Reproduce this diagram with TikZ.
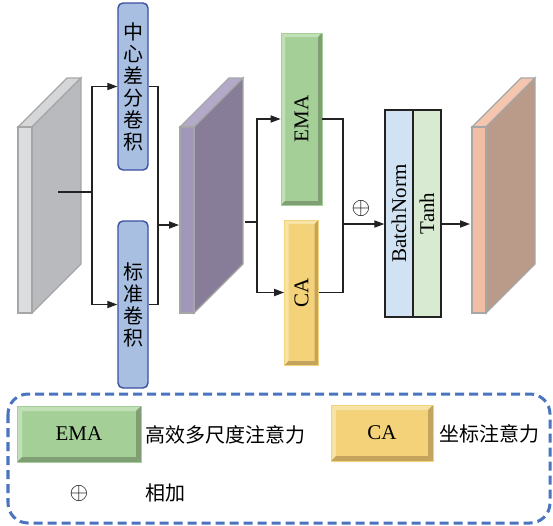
\documentclass[tikz,border=0pt]{standalone}
\usepackage{fontspec}
\setmainfont{Liberation Serif}
\newfontfamily\cjk{Noto Sans CJK SC}
\usetikzlibrary{arrows.meta}

\definecolor{convfill}{HTML}{A8BFE1}
\definecolor{convline}{HTML}{3B4FA0}
\definecolor{emafill}{HTML}{A4D097}
\definecolor{emalight}{HTML}{C2E0B7}
\definecolor{emadark}{HTML}{7F9E74}
\definecolor{cafill}{HTML}{F3D279}
\definecolor{calight}{HTML}{F8E3A6}
\definecolor{cadark}{HTML}{C4A45C}
\definecolor{bnfill}{HTML}{D1E3F2}
\definecolor{tanhfill}{HTML}{D9EAD3}
\definecolor{legendline}{HTML}{4A74BE}
\definecolor{slabline}{HTML}{A6A6A6}
\definecolor{wire}{HTML}{222222}
\definecolor{infront}{HTML}{DCDDDF}
\definecolor{inside}{HTML}{B9BABD}
\definecolor{intop}{HTML}{D5D6D8}
\definecolor{midfront}{HTML}{A097BA}
\definecolor{midside}{HTML}{877D99}
\definecolor{midtop}{HTML}{B3A9C9}
\definecolor{outfront}{HTML}{F2BEA3}
\definecolor{outside}{HTML}{BA9A89}
\definecolor{outtop}{HTML}{F4C6AE}

\tikzset{
    conv/.style={draw=convline, fill=convfill, rounded corners=2.5pt, line width=0.7pt,
        minimum width=15pt, minimum height=83.5pt, inner sep=0pt, align=center,
        font=\cjk\fontsize{10}{11}\selectfont},
    bevel/.style n args={4}{fill=#1, draw=#1, line width=0.4pt, inner sep=0pt,
        font=\fontsize{10.5}{12}\selectfont,
        path picture={
            \fill[#2] (path picture bounding box.north west) -- (path picture bounding box.north east)
                -- ([shift={(-#4,-#4)}]path picture bounding box.north east)
                -- ([shift={(#4,-#4)}]path picture bounding box.north west) -- cycle;
            \fill[#2] (path picture bounding box.north west) -- ([shift={(#4,-#4)}]path picture bounding box.north west)
                -- ([shift={(#4,#4)}]path picture bounding box.south west)
                -- (path picture bounding box.south west) -- cycle;
            \fill[#3] (path picture bounding box.south west) -- (path picture bounding box.south east)
                -- ([shift={(-#4,#4)}]path picture bounding box.south east)
                -- ([shift={(#4,#4)}]path picture bounding box.south west) -- cycle;
            \fill[#3] (path picture bounding box.north east) -- (path picture bounding box.south east)
                -- ([shift={(-#4,#4)}]path picture bounding box.south east)
                -- ([shift={(-#4,-#4)}]path picture bounding box.north east) -- cycle;
        }},
    ema/.style={bevel={emafill}{emalight}{emadark}{#1}},
    ca/.style={bevel={cafill}{calight}{cadark}{#1}},
    layer/.style={draw=wire, line width=0.7pt, minimum width=14pt, minimum height=103.5pt, inner sep=0pt,
        font=\fontsize{10.5}{12}\selectfont},
    wire/.style={draw=wire, line width=0.6pt},
    plus/.style={inner sep=0pt, font=\fontsize{13}{14}\selectfont},
}

% feature map: x of front face, front / side / top colours
\newcommand{\featmap}[4]{%
    \filldraw[fill=#4, draw=slabline, line width=0.7pt] (#1,127) -- ++(49,-49) -- ++(14,0) -- ++(-49,49) -- cycle;
    \filldraw[fill=#3, draw=slabline, line width=0.7pt] (#1+14,127) -- ++(49,-49) -- ++(0,186) -- ++(-49,49) -- cycle;
    \filldraw[fill=#2, draw=slabline, line width=0.7pt] (#1,127) rectangle (#1+14,313);
}

\begin{document}
\begin{tikzpicture}[x=0.5pt, y=-0.5pt, >={Triangle[length=5pt,width=3.6pt]}]
    \useasboundingbox (0,0) rectangle (553,526);

    % Input feature map
    \featmap{18}{infront}{inside}{intop}
    \coordinate (in) at (58,192);

    % Two convolution branches
    \node[conv] (cdc) at (133,86.5) {中\\心\\差\\分\\卷\\积};
    \node[conv] (std) at (133,304.5) {标\\准\\卷\\积};

    \coordinate (s1) at (92,192);
    \draw[wire] (in) -- (s1);
    \draw[wire, ->] (s1) |- (cdc.west);
    \draw[wire, ->] (s1) |- (std.west);

    % Middle feature map
    \featmap{180}{midfront}{midside}{midtop}
    \coordinate (mid-in) at (179,225);
    \coordinate (mid-out) at (245,222);

    \coordinate (m1) at (158,225);
    \draw[wire] (cdc.east) -| (m1);
    \draw[wire] (std.east) -| (m1);
    \draw[wire, ->] (m1) -- (mid-in);

    % Attention branches
    \node[ema=2pt, minimum width=20.5pt, minimum height=86pt] (emab) at (301.5,119) {\rotatebox{90}{EMA}};
    \node[ca=2pt, minimum width=17pt, minimum height=72.5pt] (cab) at (301.5,292.5) {\rotatebox{90}{CA}};

    \coordinate (s2) at (257,222);
    \draw[wire] (mid-out) -- (s2);
    \draw[wire, ->] (s2) |- (emab.west);
    \draw[wire, ->] (s2) |- (cab.west);

    % Add, BatchNorm, Tanh
    \node[layer, fill=bnfill] (bn) at (399,213.5) {\rotatebox{90}{BatchNorm}};
    \node[layer, fill=tanhfill] (tanh) at (427,213.5) {\rotatebox{90}{Tanh}};

    \coordinate (m2) at (343,224);
    \draw[wire] (emab.east) -| (m2);
    \draw[wire] (cab.east) -| (m2);
    \draw[wire, ->] (m2) -- (m2 -| bn.west);
    \node[plus] (add) at (361,208) {$\oplus$};

    % Output feature map
    \featmap{472}{outfront}{outside}{outtop}
    \coordinate (out-in) at (470,224);
    \draw[wire, ->] (tanh.east |- m2) -- (out-in);

    % Legend
    \draw[legendline, line width=1.5pt, dash pattern=on 4.5pt off 2.5pt, rounded corners=10pt] (8,394) rectangle (550,523);
    \node[ema=2.5pt, minimum width=62pt, minimum height=28pt] (lg-ema) at (79,434) {EMA};
    \node[anchor=west, font=\cjk, inner sep=0pt] (lg-ema-txt) at (145,435) {高效多尺度注意力};
    \node[ca=2.5pt, minimum width=51pt, minimum height=28pt] (lg-ca) at (382,433) {CA};
    \node[anchor=west, font=\cjk, inner sep=0pt] (lg-ca-txt) at (439,434) {坐标注意力};
    \node[plus] (lg-add) at (79,493) {$\oplus$};
    \node[anchor=west, font=\cjk, inner sep=0pt] (lg-add-txt) at (145,493) {相加};
\end{tikzpicture}
\end{document}
